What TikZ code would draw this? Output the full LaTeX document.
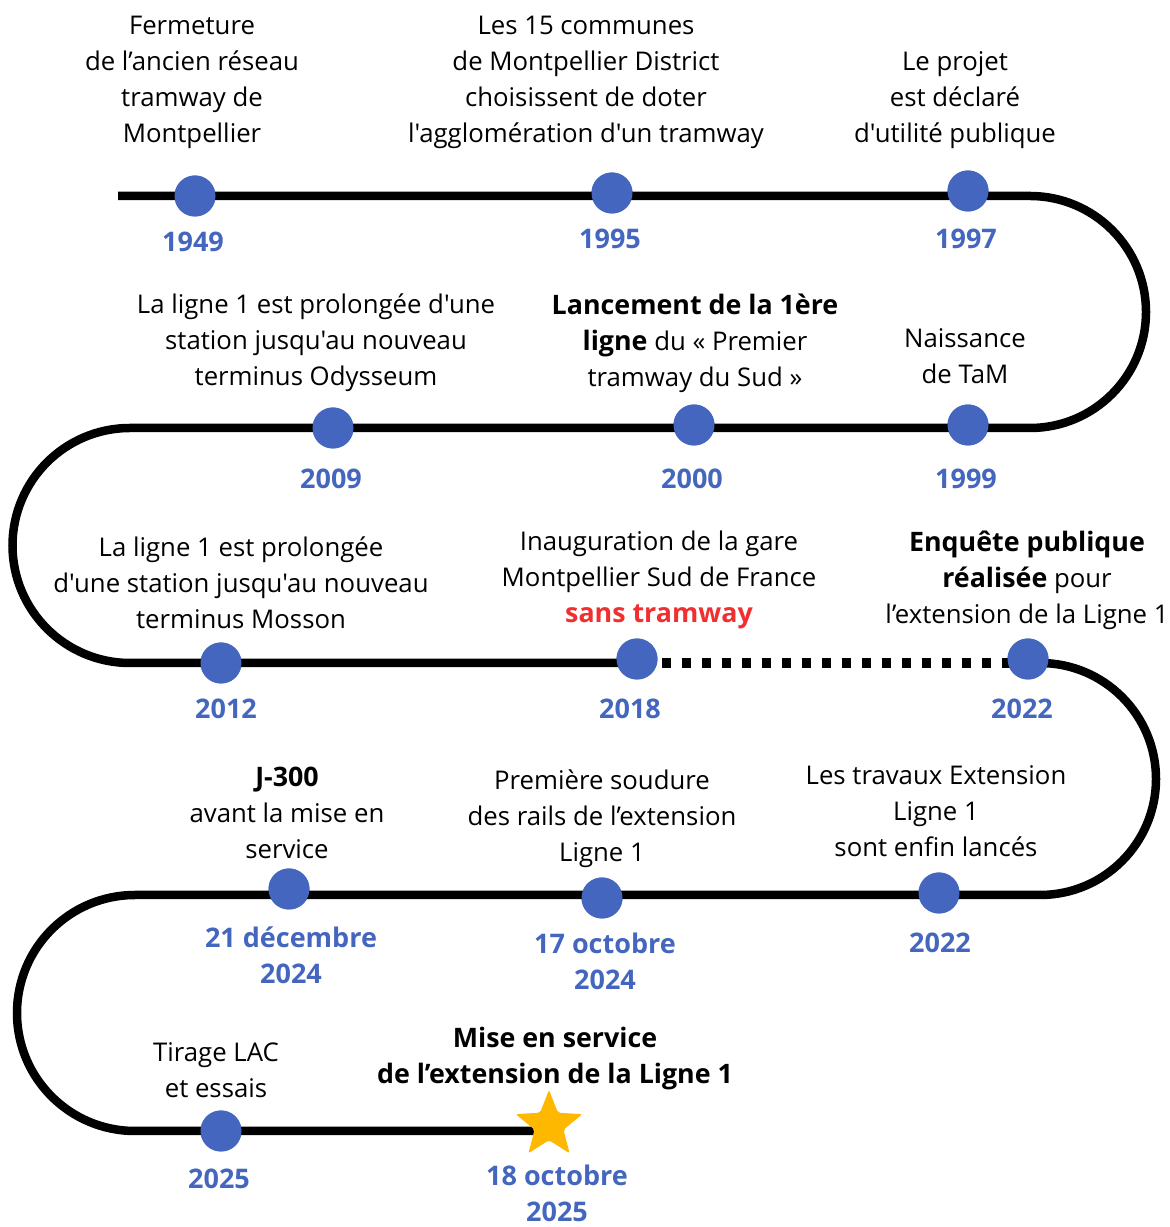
\documentclass[tikz,border=0pt]{standalone}
\usepackage{fontspec}
\setmainfont{Open Sans}[Ligatures=TeXOff]
\usetikzlibrary{shapes.geometric}
\definecolor{dotblue}{RGB}{68,102,190}
\definecolor{hotred}{RGB}{240,48,48}
\definecolor{stargold}{RGB}{255,184,0}
\newcommand\bdtxt[1]{{\fontsize{26.8}{36}\selectfont\bfseries #1}}
\begin{document}
\begin{tikzpicture}[x=1pt,y=1pt,
  track/.style={line width=8.5pt,black},
  dotted track/.style={line width=10pt,black,dash pattern=on 9pt off 11pt},
  stop/.style={circle,fill=dotblue,minimum size=41pt,inner sep=0pt},
  desc/.style={align=center,inner sep=0pt,font=\fontsize{25.75}{36}\selectfont},
  yr/.style={align=center,inner sep=0pt,text=dotblue,font=\fontsize{27}{36}\selectfont\bfseries}]
\useasboundingbox (0,0) rectangle (1170,1227);
% coordinates of the track
\coordinate (s) at (118,1031);
\coordinate (r1) at (1030,1031);
\coordinate (r2) at (130,799);
\coordinate (r3) at (1040,564);
\coordinate (r4) at (135,332);
% stops
\node[stop] (d1949) at (195,1031) {};
\node[stop] (d1995) at (612,1034) {};
\node[stop] (d1997) at (968,1036) {};
\node[stop] (d2009) at (333,799) {};
\node[stop] (d2000) at (694,802) {};
\node[stop] (d1999) at (968,802) {};
\node[stop] (d2012) at (221,564) {};
\node[stop] (d2018) at (637,568) {};
\node[stop] (d2022a) at (1028,568) {};
\node[stop] (d21dec) at (289,338) {};
\node[stop] (d17oct) at (602,329) {};
\node[stop] (d2022b) at (939,334) {};
\node[stop] (d2025) at (221,96) {};
\coordinate (starc) at (549,102);
% track
\draw[track] (s) -- (r1) arc[start angle=90,end angle=-90,radius=116pt]
  -- (r2) arc[start angle=90,end angle=270,radius=117.5pt]
  -- (d2018.center |- r3);
\draw[dotted track] ([xshift=25pt]d2018.center |- r3) -- (d2022a.center |- r3);
\draw[track] (d2022a.center |- r3) -- (r3) arc[start angle=90,end angle=-90,radius=116pt]
  -- (r4) arc[start angle=90,end angle=270,radius=118pt]
  -- (starc |- 0,96);
% redraw stops on top
\foreach \p in {{195,1031},{612,1034},{968,1036},{333,799},{694,802},{968,802},{221,564},{637,568},{1028,568},{289,338},{602,329},{939,334},{221,96}}
  \fill[dotblue] (\p) circle (20.5pt);
\node[star,star points=5,star point ratio=2.3,fill=stargold,minimum size=70pt,inner sep=0pt,rounded corners=2pt] (star) at (starc) {};
% years
\node[yr] (y1949) at (193,985) {1949};
\node[yr] (y1995) at (610,988) {1995};
\node[yr] (y1997) at (966,988) {1997};
\node[yr] (y2009) at (331,748) {2009};
\node[yr] (y2000) at (692,748) {2000};
\node[yr] (y1999) at (966,748) {1999};
\node[yr] (y2012) at (226,518) {2012};
\node[yr] (y2018) at (630,518) {2018};
\node[yr] (y2022a) at (1022,518) {2022};
\node[yr] (y21dec) at (291,272) {21 décembre\\2024};
\node[yr] (y17oct) at (605,266) {17 octobre\\2024};
\node[yr] (y2022b) at (940,284) {2022};
\node[yr] (y2025) at (219,48) {2025};
\node[yr] (y18oct) at (557,34) {18 octobre\\2025};
% descriptions
\node[desc] (t1949) at (192,1145) {Fermeture\\de l’ancien réseau\\tramway de\\Montpellier};
\node[desc] (t1995) at (586,1145) {Les 15 communes\\de Montpellier District\\choisissent de doter\\l'agglomération d'un tramway};
\node[desc] (t1997) at (955,1127) {Le projet\\est déclaré\\d'utilité publique};
\node[desc] (t2009) at (316,884) {La ligne 1 est prolongée d'une\\station jusqu'au nouveau\\terminus Odysseum};
\node[desc] (t2000) at (695,884) {\bdtxt{Lancement de la 1ère}\\\bdtxt{ligne} du «~Premier\\tramway du Sud~»};
\node[desc] (t1999) at (965,871) {Naissance\\de TaM};
\node[desc] (t2012) at (241,644) {La ligne 1 est prolongée\\d'une station jusqu'au nouveau\\terminus Mosson};
\node[desc] (t2018) at (659,647) {Inauguration de la gare\\Montpellier Sud de France\\\textcolor{hotred}{\bdtxt{sans tramway}}};
\node[desc] (t2022a) at (1027,647) {\bdtxt{Enquête publique}\\\bdtxt{réalisée} pour\\l’extension de la Ligne 1};
\node[desc] (tJ300) at (287,414) {\bdtxt{J-300}\\avant la mise en\\service};
\node[desc] (t17oct) at (602,408) {Première soudure\\des rails de l’extension\\Ligne 1};
\node[desc] (t2022b) at (936,416) {Les travaux Extension\\Ligne 1\\sont enfin lancés};
\node[desc] (tLAC) at (216,157) {Tirage LAC\\et essais};
\node[desc] (tMise) at (555,168) {\bdtxt{Mise en service}\\\bdtxt{de l’extension de la Ligne 1}};
\end{tikzpicture}
\end{document}
